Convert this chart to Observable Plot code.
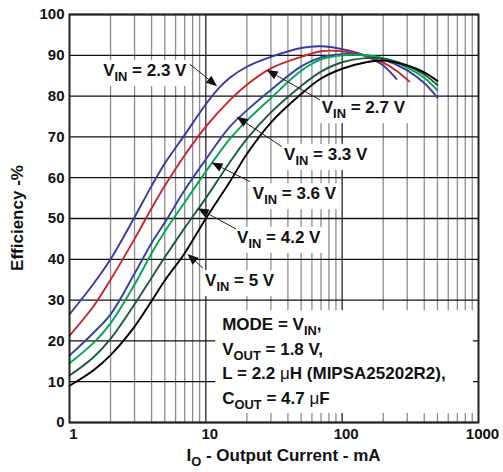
<!DOCTYPE html>
<html><head><meta charset="utf-8">
<script src="https://cdn.jsdelivr.net/npm/d3@7"></script>
<script src="https://cdn.jsdelivr.net/npm/@observablehq/plot@0.6"></script>
<style>
html,body{margin:0;padding:0;background:#fff;}
#chart svg{display:block;}
</style></head><body><div id="chart"></div>
<script>
// ---- data ----
const vin23_I = [1, 1.5, 2, 3, 4, 5, 7, 10, 12.5, 15, 20, 30, 50, 70, 100, 150, 200, 250];
const vin23_E = [26.5, 34, 40, 50.3, 58, 63.5, 70.5, 78, 82, 84.5, 87.2, 89.6, 91.8, 92.2, 91.5, 89.8, 87.5, 84.2];
const vin27_I = [1, 1.5, 2, 3, 4, 5, 7, 10, 15, 20, 30, 50, 70, 100, 150, 200, 250, 310];
const vin27_E = [21.3, 28.5, 35, 45, 52.5, 58, 65.5, 72.5, 79, 82.8, 86.8, 89.6, 91, 91, 89.8, 88.2, 86.2, 83.6];
const vin33_I = [1, 1.5, 2, 3, 4, 5, 7, 10, 15, 20, 30, 50, 70, 100, 150, 200, 300, 400, 500];
const vin33_E = [16.4, 22, 26.5, 36.5, 44, 49, 57, 64.5, 72.5, 76.5, 81.5, 87.3, 89.5, 90.3, 90, 89, 86.3, 83.2, 79.6];
const vin36_I = [1, 1.5, 2, 3, 4, 5, 7, 10, 15, 20, 30, 50, 70, 100, 150, 200, 300, 400, 500];
const vin36_E = [14.5, 19.5, 24.3, 33.8, 41.5, 46.8, 54, 61.5, 69.5, 74, 79.5, 86.2, 89, 90, 90, 89.3, 87, 84.5, 81.4];
const vin42_I = [1, 1.5, 2, 3, 4, 5, 7, 10, 15, 20, 30, 50, 70, 100, 150, 200, 300, 400, 500];
const vin42_E = [11.5, 16, 20.5, 29, 35.5, 40.5, 47.7, 55, 63.8, 69.5, 76, 82.5, 86, 88.3, 89.3, 89.2, 87.5, 85.3, 82.7];
const vin50_I = [1, 1.5, 2, 3, 4, 5, 7, 10, 15, 20, 30, 50, 70, 100, 150, 200, 300, 400, 500];
const vin50_E = [9, 12.8, 16.5, 23.5, 29.8, 34.8, 41.5, 50, 59, 65.8, 73.5, 80.5, 84.3, 86.7, 88.3, 88.7, 87.5, 85.8, 83.7];

const seriesNames = ["2.3 V", "2.7 V", "3.3 V", "3.6 V", "4.2 V", "5 V"];
const seriesColors = ["#383a9f", "#c4262e", "#34409e", "#00a651", "#1b5b3a", "#000000"];
const seriesI = [vin23_I, vin27_I, vin33_I, vin36_I, vin42_I, vin50_I];
const seriesE = [vin23_E, vin27_E, vin33_E, vin36_E, vin42_E, vin50_E];

const yTicks = [0, 10, 20, 30, 40, 50, 60, 70, 80, 90, 100];
const xTicks = [1, 10, 100, 1000];
const xMinor = [2, 3, 4, 5, 6, 7, 8, 9, 20, 30, 40, 50, 60, 70, 80, 90, 200, 300, 400, 500, 600, 700, 800, 900];
const xMajor = [10, 100];

// annotation labels: text anchor, arrow tail and arrow tip (data units)
const labelI = [1.78, 71.4, 37.8, 22.3, 17.1, 9.95];
const labelE = [84.8, 75.7, 64.2, 54.6, 43.9, 33.3];
const tailI = [7.7, 69.5, 36.4, 21.3, 16.8, 9.6];
const tailE = [87.7, 78.9, 67.5, 58.9, 47.3, 37.7];
const tipI = [12.2, 28.2, 17.0, 11.1, 8.8, 7.4];
const tipE = [82.3, 86.3, 74.8, 63.6, 52.4, 41.2];

const rows = [];
seriesNames.forEach((n, k) => seriesI[k].forEach((v, i) => rows.push({vin: n, I: v, E: seriesE[k][i]})));

const FONT = "'Liberation Sans', Arial, Helvetica, sans-serif";

const plot = Plot.plot({
  width: 503, height: 472,
  marginLeft: 69, marginRight: 25, marginTop: 14, marginBottom: 50,
  style: {fontFamily: FONT, background: "#fff", overflow: "visible"},
  x: {type: "log", domain: [1, 1000], axis: null},
  y: {domain: [0, 100], axis: null},
  color: {domain: seriesNames, range: seriesColors},
  marks: [
    Plot.ruleX(xMinor, {stroke: "#8c8c8c", strokeWidth: 1.3}),
    Plot.ruleX(xMajor, {stroke: "#2a2a2a", strokeWidth: 1.3}),
    Plot.ruleY(yTicks, {stroke: "#111", strokeWidth: 1.3}),
    Plot.line(rows, {x: "I", y: "E", z: "vin", stroke: "vin", strokeWidth: 1.9, curve: "catmull-rom"}),
    Plot.frame({stroke: "#222", strokeWidth: 2}),
    Plot.text(yTicks, {y: d => d, frameAnchor: "left", dx: -5, textAnchor: "end", text: d => String(d), fontSize: 15, fontWeight: "bold", fill: "#111"}),
    Plot.text(xTicks, {x: d => d, frameAnchor: "bottom", dy: 16, dx: 4, text: d => String(d), fontSize: 15, fontWeight: "bold", fill: "#111"})
  ]
});
document.getElementById("chart").appendChild(plot);

// ---- annotations (positions through the plot's scales) ----
const sx = plot.scale("x"), sy = plot.scale("y");
const svg = d3.select(plot);
const lineG = svg.select('g[aria-label="line"]').node();
const boxLayer = d3.select(plot.insertBefore(document.createElementNS("http://www.w3.org/2000/svg", "g"), lineG));
const annot = svg.append("g").attr("font-family", FONT).attr("font-weight", "bold").attr("fill", "#111").attr("text-anchor", "start");

function richText(g, x, y, parts, size) {
  const t = g.append("text").attr("x", x).attr("y", y).attr("font-size", size);
  let shift = 0;
  parts.forEach(p => {
    const s = t.append("tspan").text(p.t);
    const want = p.sub ? Math.round(size * 0.3) : 0;
    if (want !== shift) { s.attr("dy", want - shift); shift = want; }
    if (p.sub) s.attr("font-size", size * 0.76);
    if (p.normal) s.attr("font-weight", "normal");
  });
  return t;
}

// arrows
const arrowG = svg.append("g");
seriesNames.forEach((n, k) => {
  const x1 = sx.apply(tailI[k]), y1 = sy.apply(tailE[k]);
  const x2 = sx.apply(tipI[k]), y2 = sy.apply(tipE[k]);
  const a = Math.atan2(y2 - y1, x2 - x1), L = 11, w = 4.5;
  const bx = x2 - L * Math.cos(a), by = y2 - L * Math.sin(a);
  arrowG.append("line").attr("x1", x1).attr("y1", y1).attr("x2", bx).attr("y2", by)
    .attr("stroke", "#222").attr("stroke-width", 1);
  arrowG.append("path").attr("fill", "#111")
    .attr("d", `M${x2},${y2}L${bx + w * Math.sin(a)},${by - w * Math.cos(a)}L${bx - w * Math.sin(a)},${by + w * Math.cos(a)}Z`);
});

// VIN labels with white boxes
seriesNames.forEach((n, k) => {
  const t = richText(annot, sx.apply(labelI[k]), sy.apply(labelE[k]),
    [{t: "V"}, {t: "IN", sub: true}, {t: " = " + n}], 17);
  const b = t.node().getBBox();
  boxLayer.append("rect").attr("x", b.x - 3).attr("y", b.y - 1).attr("width", b.width + 6).attr("height", b.height + 3).attr("fill", "#fff");
});

// conditions block
const modeX = sx.apply(13.3), modeY = sy.apply(22.5), lh = 24.5;
const modeLines = [
  [{t: "MODE = V"}, {t: "IN", sub: true}, {t: ","}],
  [{t: "V"}, {t: "OUT", sub: true}, {t: " = 1.8 V,"}],
  [{t: "L = 2.2 "}, {t: "\u03bc", normal: true}, {t: "H (MIPSA25202R2),"}],
  [{t: "C"}, {t: "OUT", sub: true}, {t: " = 4.7 "}, {t: "\u03bc", normal: true}, {t: "F"}]
];
modeLines.forEach((p, i) => richText(annot, modeX, modeY + i * lh, p, 17));
boxLayer.append("rect").attr("x", modeX - 7).attr("y", modeY - 20).attr("width", sx.apply(1000) - 5 - (modeX - 7)).attr("height", sy.apply(0) - 9 - (modeY - 20)).attr("fill", "#fff");

// axis titles
const fx0 = sx.apply(1), fx1 = sx.apply(1000), fy0 = sy.apply(0), fy1 = sy.apply(100);
const xt = richText(annot, 0, fy0 + 39, [{t: "I"}, {t: "O", sub: true}, {t: " - Output Current - mA"}], 17);
xt.attr("text-anchor", "middle").attr("x", (fx0 + fx1) / 2 + 10);
annot.append("text").attr("transform", `translate(${fx0 - 46},${(fy0 + fy1) / 2}) rotate(-90)`)
  .attr("text-anchor", "middle").attr("font-size", 17).text("Efficiency -%");
</script></body></html>
